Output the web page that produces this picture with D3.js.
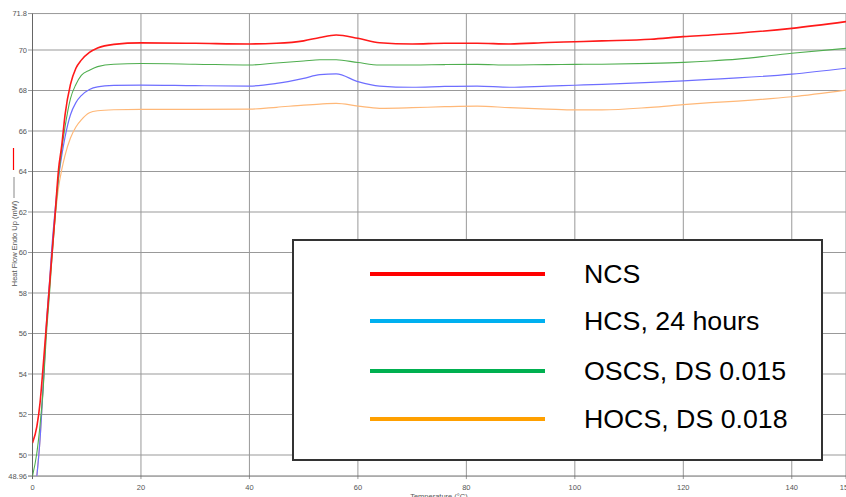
<!DOCTYPE html>
<html>
<head>
<meta charset="utf-8">
<script src="https://cdn.jsdelivr.net/npm/d3@7"></script>
<style>
  html, body { margin: 0; padding: 0; background: #fff; }
  svg { display: block; }
</style>
</head>
<body>
<figure id="chart" style="margin:0"></figure>
<script>
// temperature (°C) sample points shared by all curves
const temps = [0, 0.8, 1.4, 2, 2.5, 3.2, 3.5, 4.2, 4.8, 5.4, 6, 7, 8, 9, 10.5, 12, 15, 20, 30, 40, 45, 50, 53, 56, 60, 64, 70, 76, 82, 88, 95, 100, 105, 114, 120, 125, 130, 140, 150]

// heat flow (mW)
const ncs   = [50.6, 51.4, 52.6, 54.5, 56.2, 58.6, 59.6, 62.0, 64.1, 65.3, 66.8, 68.3, 69.1, 69.5, 69.88, 70.1, 70.28, 70.35, 70.33, 70.3, 70.33, 70.45, 70.62, 70.74, 70.58, 70.36, 70.3, 70.33, 70.33, 70.3, 70.37, 70.41, 70.45, 70.53, 70.66, 70.74, 70.83, 71.07, 71.4]
const oscs  = [48.96, 50.1, 51.5, 53.4, 55.7, 58.2, 59.4, 61.8, 63.7, 65.1, 66.2, 67.6, 68.3, 68.75, 69.0, 69.18, 69.3, 69.33, 69.3, 69.26, 69.36, 69.46, 69.52, 69.52, 69.38, 69.26, 69.26, 69.28, 69.29, 69.26, 69.28, 69.29, 69.3, 69.34, 69.39, 69.46, 69.55, 69.84, 70.08]
const hcs   = [null, 48.96, 50.8, 53.6, 56.2, 58.8, 60.0, 62.2, 63.7, 64.8, 65.7, 66.8, 67.4, 67.75, 68.05, 68.18, 68.25, 68.27, 68.24, 68.22, 68.35, 68.6, 68.78, 68.82, 68.44, 68.22, 68.16, 68.2, 68.22, 68.16, 68.22, 68.26, 68.3, 68.4, 68.48, 68.55, 68.62, 68.81, 69.1]
const hocs  = [null, 48.96, 50.8, 53.5, 56.0, 58.6, 59.7, 61.8, 63.2, 64.1, 64.8, 65.65, 66.2, 66.55, 66.9, 67.0, 67.05, 67.07, 67.07, 67.08, 67.17, 67.28, 67.33, 67.36, 67.23, 67.12, 67.15, 67.2, 67.23, 67.15, 67.08, 67.04, 67.04, 67.17, 67.3, 67.4, 67.48, 67.69, 68.02]

const xTicks = [0, 20, 40, 60, 80, 100, 120, 140, 150]
const yTicks = [50, 52, 54, 56, 58, 60, 62, 64, 66, 68, 70]
const yEnds  = [48.96, 71.8]

const legendLabels = ["NCS", "HCS, 24 hours", "OSCS, DS 0.015", "HOCS, DS 0.018"]
const legendColors = ["#ff0000", "#00b0f0", "#00b050", "#ffa000"]

const width = 846
const height = 497

const x = d3.scaleLinear().domain([0, 150]).range([32.5, 846])
const y = d3.scaleLinear().domain([48.96, 71.8]).range([476.06, 13.55])

const svg = d3.select("figure#chart")
  .append("svg")
  .attr("width", width)
  .attr("height", height)
  .attr("font-family", "'Liberation Sans', Arial, sans-serif")

svg.append("defs").append("clipPath")
    .attr("id", "plot")
  .append("rect")
    .attr("x", x(0)).attr("y", y(71.8))
    .attr("width", x(150) - x(0)).attr("height", y(48.96) - y(71.8))

// grid
const grid = svg.append("g").attr("stroke", "#999").attr("stroke-width", 1)
grid.selectAll("line.h")
  .data(yTicks.concat([71.8]))
  .join("line")
    .attr("class", "h")
    .attr("x1", 28).attr("x2", width)
    .attr("y1", d => y(d)).attr("y2", d => y(d))
grid.selectAll("line.v")
  .data(xTicks.slice(1))
  .join("line")
    .attr("class", "v")
    .attr("x1", d => x(d)).attr("x2", d => x(d))
    .attr("y1", y(71.8)).attr("y2", y(48.96) + 3)

// axes lines
svg.append("line")
    .attr("x1", x(0)).attr("x2", x(0))
    .attr("y1", y(71.8)).attr("y2", y(48.96) + 3)
    .attr("stroke", "#666")
svg.append("line")
    .attr("x1", 28).attr("x2", width)
    .attr("y1", y(48.96)).attr("y2", y(48.96))
    .attr("stroke", "#666")

// tick labels
svg.append("g")
    .attr("font-size", 7.5)
    .attr("fill", "#555")
    .attr("text-anchor", "end")
  .selectAll("text")
  .data(yTicks.concat(yEnds))
  .join("text")
    .attr("x", 27)
    .attr("y", d => y(d))
    .attr("dy", "0.35em")
    .text(d => d)

svg.append("g")
    .attr("font-size", 7.5)
    .attr("fill", "#555")
    .attr("text-anchor", "middle")
  .selectAll("text")
  .data(xTicks)
  .join("text")
    .attr("x", d => x(d))
    .attr("y", 487.5)
    .attr("dy", "0.35em")
    .text(d => d)

svg.append("text")
    .attr("x", 439).attr("y", 499)
    .attr("font-size", 7.5)
    .attr("fill", "#555")
    .attr("text-anchor", "middle")
    .text("Temperature (°C)")

svg.append("text")
    .attr("transform", "translate(16.5,243.5) rotate(-90)")
    .attr("font-size", 7.5)
    .attr("fill", "#555")
    .attr("text-anchor", "middle")
    .text("Heat Flow Endo Up (mW)")
svg.append("line")
    .attr("x1", 13.5).attr("x2", 13.5).attr("y1", 148).attr("y2", 170)
    .attr("stroke", "#ff0000").attr("stroke-width", 1.2)
svg.append("line")
    .attr("x1", 14).attr("x2", 14).attr("y1", 177).attr("y2", 198)
    .attr("stroke", "#888").attr("stroke-width", 1)

// curves
const curves = [
  { values: hocs, color: "#ffb878", w: 1.2 },
  { values: hcs,  color: "#6e6eff", w: 1.2 },
  { values: oscs, color: "#4fae4f", w: 1.1 },
  { values: ncs,  color: "#ff1a1a", w: 1.6 }
]

const line = d3.line()
  .defined(d => d[1] != null)
  .x(d => x(d[0]))
  .y(d => y(d[1]))
  .curve(d3.curveMonotoneX)

svg.append("g")
    .attr("clip-path", "url(#plot)")
    .attr("fill", "none")
  .selectAll("path")
  .data(curves)
  .join("path")
    .attr("stroke", d => d.color)
    .attr("stroke-width", d => d.w)
    .attr("d", d => line(temps.map((t, i) => [t, d.values[i]])))

// legend box
const legend = svg.append("g")
legend.append("rect")
    .attr("x", 293).attr("y", 240)
    .attr("width", 529).attr("height", 220)
    .attr("fill", "#fff")
    .attr("stroke", "#333")
    .attr("stroke-width", 2)

const rowY = [274, 321, 371, 419]
legend.selectAll("line")
  .data(legendLabels)
  .join("line")
    .attr("x1", 370).attr("x2", 545)
    .attr("y1", (d, i) => rowY[i]).attr("y2", (d, i) => rowY[i])
    .attr("stroke", (d, i) => legendColors[i])
    .attr("stroke-width", 4)

legend.selectAll("text")
  .data(legendLabels)
  .join("text")
    .attr("transform", (d, i) => `translate(584,${rowY[i]}) scale(1.07,1)`)
    .attr("dy", "0.36em")
    .attr("font-size", 25)
    .attr("fill", "#000")
    .text(d => d)
</script>
</body>
</html>
